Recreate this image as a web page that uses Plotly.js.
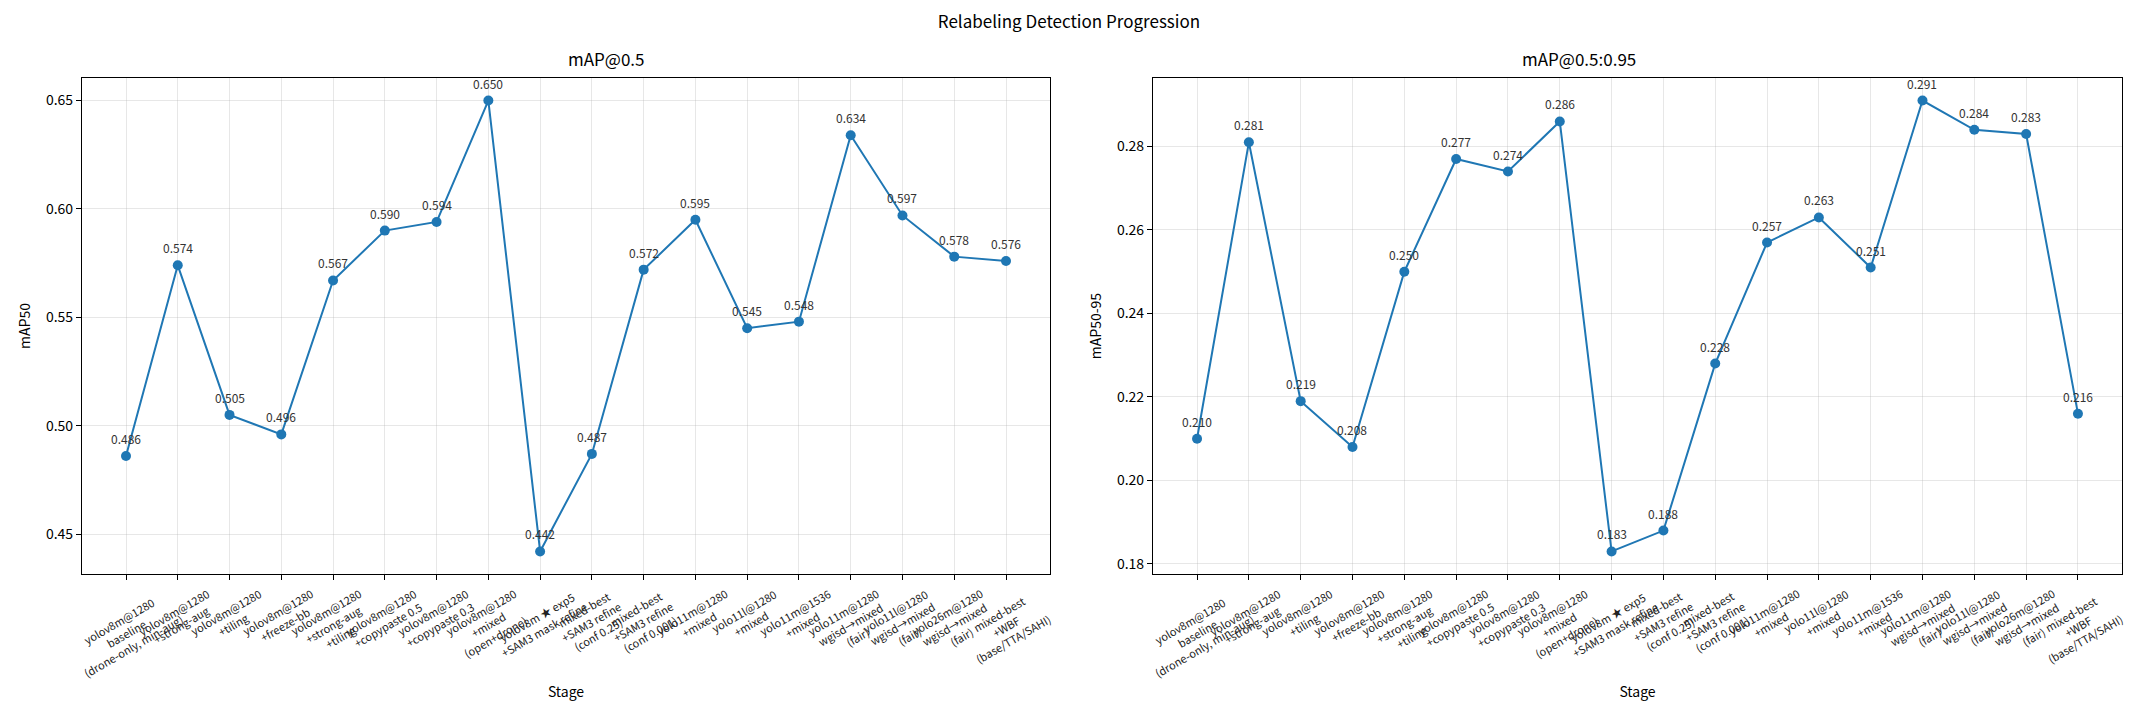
<!DOCTYPE html>
<html>
<head>
<meta charset="utf-8">
<script src="https://cdn.plot.ly/plotly-3.0.1.min.js"></script>
<style>html,body{margin:0;padding:0;background:#fff;}#chart{width:2138px;height:712px;}</style>
</head>
<body>
<div id="chart"></div>
<script>
const stages = [
  "yolov8m@1280<br>baseline<br>(drone-only, min-aug)",
  "yolov8m@1280<br>+strong-aug",
  "yolov8m@1280<br>+tiling",
  "yolov8m@1280<br>+freeze-bb",
  "yolov8m@1280<br>+strong-aug<br>+tiling",
  "yolov8m@1280<br>+copypaste 0.5",
  "yolov8m@1280<br>+copypaste 0.3",
  "yolov8m@1280<br>+mixed<br>(open+drone)",
  "yolov8m ★ exp5<br>+SAM3 mask refine",
  "mixed-best<br>+SAM3 refine<br>(conf 0.25)",
  "mixed-best<br>+SAM3 refine<br>(conf 0.001)",
  "yolo11m@1280<br>+mixed",
  "yolo11l@1280<br>+mixed",
  "yolo11m@1536<br>+mixed",
  "yolo11m@1280<br>wgisd→mixed<br>(fair)",
  "yolo11l@1280<br>wgisd→mixed<br>(fair)",
  "yolo26m@1280<br>wgisd→mixed<br>(fair)",
  "mixed-best<br>+WBF<br>(base/TTA/SAHI)"
];
const map50 = [0.486, 0.574, 0.505, 0.496, 0.567, 0.590, 0.594, 0.650, 0.442, 0.487, 0.572, 0.595, 0.545, 0.548, 0.634, 0.597, 0.578, 0.576];
const map5095 = [0.210, 0.281, 0.219, 0.208, 0.250, 0.277, 0.274, 0.286, 0.183, 0.188, 0.228, 0.257, 0.263, 0.251, 0.291, 0.284, 0.283, 0.216];
const yTicks50 = [0.45, 0.50, 0.55, 0.60, 0.65];
const yTicks5095 = [0.18, 0.20, 0.22, 0.24, 0.26, 0.28];

const FONT = "Noto Sans CJK KR, Noto Sans, DejaVu Sans, sans-serif";
const BLUE = "#1f77b4";
const idx = stages.map((_, i) => i);

function padRange(arr) {
  const lo = Math.min(...arr), hi = Math.max(...arr), m = (hi - lo) * 0.05;
  return [lo - m, hi + m];
}

const dom = {
  x1: [82 / 2138, 1050 / 2138],
  x2: [1153 / 2138, 2122 / 2138],
  y: [1 - 574 / 712, 1 - 78 / 712]
};

const traces = [
  {x: idx, y: map50, type: "scatter", mode: "lines+markers", xaxis: "x", yaxis: "y",
   line: {color: BLUE, width: 2}, marker: {color: BLUE, size: 10}, showlegend: false,
   hovertext: stages, hoverinfo: "text+y"},
  {x: idx, y: map5095, type: "scatter", mode: "lines+markers", xaxis: "x2", yaxis: "y2",
   line: {color: BLUE, width: 2}, marker: {color: BLUE, size: 10}, showlegend: false,
   hovertext: stages, hoverinfo: "text+y"}
];

const annotations = [];
function addPanel(xref, yref, vals) {
  vals.forEach((v, i) => {
    annotations.push({x: i, y: v, xref: xref, yref: yref, text: v.toFixed(3),
      showarrow: false, yanchor: "bottom", yshift: 7,
      font: {family: FONT, size: 12, color: "#333"}});
  });
  stages.forEach((s, i) => {
    annotations.push({x: i, y: dom.y[0], xref: xref, yref: "paper", text: s,
      showarrow: false, yanchor: "top", xanchor: "center", yshift: -9, textangle: -30,
      align: "center", font: {family: FONT, size: 11, color: "#222"}});
  });
}
addPanel("x", "y", map50);
addPanel("x2", "y2", map5095);

annotations.push({text: "mAP@0.5", xref: "paper", yref: "paper",
  x: (dom.x1[0] + dom.x1[1]) / 2, y: dom.y[1], yanchor: "bottom", yshift: 5, showarrow: false,
  font: {family: FONT, size: 17, color: "#000"}});
annotations.push({text: "mAP@0.5:0.95", xref: "paper", yref: "paper",
  x: (dom.x2[0] + dom.x2[1]) / 2, y: dom.y[1], yanchor: "bottom", yshift: 5, showarrow: false,
  font: {family: FONT, size: 17, color: "#000"}});

const axCommon = {
  showline: true, linecolor: "#000", linewidth: 1.1, mirror: true,
  ticks: "outside", ticklen: 5, tickwidth: 1.1, tickcolor: "#000",
  showgrid: true, gridcolor: "rgba(176,176,176,0.3)", gridwidth: 1,
  zeroline: false, tickfont: {family: FONT, size: 14, color: "#000"}
};

const xCommon = Object.assign({}, axCommon, {
  tickmode: "array", tickvals: idx, showticklabels: false,
  range: [-0.85, stages.length - 1 + 0.85],
  title: {text: "Stage", font: {family: FONT, size: 14, color: "#000"}, standoff: 108}
});

const layout = {
  width: 2138, height: 712,
  paper_bgcolor: "#fff", plot_bgcolor: "#fff",
  margin: {l: 0, r: 0, t: 0, b: 0},
  title: {text: "Relabeling Detection Progression", x: 0.5, xanchor: "center",
    y: 1 - 22 / 712, yanchor: "middle", font: {family: FONT, size: 17, color: "#000"}},
  xaxis: Object.assign({}, xCommon, {domain: dom.x1, anchor: "y"}),
  xaxis2: Object.assign({}, xCommon, {domain: dom.x2, anchor: "y2"}),
  yaxis: Object.assign({}, axCommon, {domain: dom.y, anchor: "x", range: padRange(map50),
    tickmode: "array", tickvals: yTicks50, ticktext: yTicks50.map(v => v.toFixed(2)),
    title: {text: "mAP50", font: {family: FONT, size: 14, color: "#000"}, standoff: 12}}),
  yaxis2: Object.assign({}, axCommon, {domain: dom.y, anchor: "x2", range: padRange(map5095),
    tickmode: "array", tickvals: yTicks5095, ticktext: yTicks5095.map(v => v.toFixed(2)),
    title: {text: "mAP50-95", font: {family: FONT, size: 14, color: "#000"}, standoff: 12}}),
  annotations: annotations
};

Plotly.newPlot("chart", traces, layout, {displayModeBar: false, responsive: false});
</script>
</body>
</html>
